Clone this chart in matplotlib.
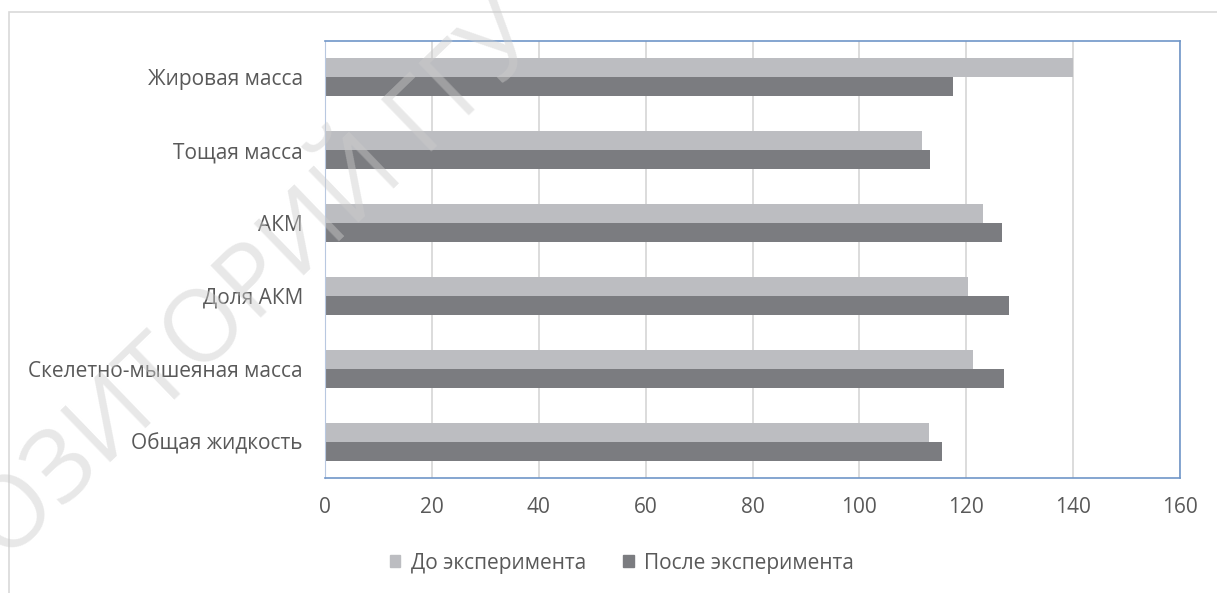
import matplotlib.pyplot as plt
import numpy as np
from matplotlib.patches import Patch, Rectangle

plt.rcParams['font.family'] = ['Open Sans', 'DejaVu Sans']

categories = ['Жировая масса', 'Тощая масса', 'АКМ', 'Доля АКМ',
              'Скелетно-мышеяная масса', 'Общая жидкость']
before = [140.0, 111.8, 123.2, 120.4, 121.2, 113.1]
after = [117.6, 113.2, 126.7, 128.0, 127.0, 115.4]
series_names = ['До эксперимента', 'После эксперимента']
xticks = [0, 20, 40, 60, 80, 100, 120, 140, 160]

c_before = '#bcbdc1'
c_after = '#7b7c80'
txt = '#595959'
fs = 15

fig = plt.figure(figsize=(12.17, 5.93), dpi=100)
W, H = 1217, 593
ax = fig.add_axes([325 / W, 1 - 478 / H, 855 / W, 437 / H])

# chart area border
fig.patches.append(Rectangle((9 / W, -0.2), 1.2, 1.2 - 12 / H,
                             transform=fig.transFigure, fill=False,
                             edgecolor='#d9d9d9', linewidth=1.2))

y = np.arange(len(categories))[::-1]
h = 0.262
ax.barh(y + h / 2, before, height=h, color=c_before, label=series_names[0], zorder=2)
ax.barh(y - h / 2, after, height=h, color=c_after, label=series_names[1], zorder=2)

ax.set_xlim(0, 160)
ax.set_ylim(-0.5, len(categories) - 0.5)
ax.set_xticks(xticks)
ax.set_yticks(y)
ax.set_yticklabels(categories)
ax.grid(axis='x', color='#d9d9d9', linewidth=1.3, zorder=0)
ax.set_axisbelow(True)
ax.tick_params(axis='both', length=0, labelsize=fs, colors=txt)
ax.tick_params(axis='x', pad=14)
ax.tick_params(axis='y', pad=16)

for side in ['top', 'right', 'bottom']:
    ax.spines[side].set_color('#7096c8')
    ax.spines[side].set_linewidth(1.2)
ax.spines['left'].set_color('#b8c8e0')
ax.spines['left'].set_linewidth(0.8)

handles = [Patch(color=c_before), Patch(color=c_after)]
fig.legend(handles, series_names, loc='center', bbox_to_anchor=(622 / W, 1 - 563 / H),
           ncol=2, frameon=False, fontsize=fs, labelcolor=txt,
           handlelength=0.5, handleheight=0.5, handletextpad=0.5, columnspacing=1.8)

# repository watermark
fig.text(189 / W, 1 - 350 / H, 'РЕПОЗИТОРИЙ ГГУ', rotation=44, fontsize=72,
         color='#cccccc', alpha=0.45, ha='center', va='center',
         rotation_mode='anchor', zorder=10)

fig.savefig('out.png', dpi=100)
